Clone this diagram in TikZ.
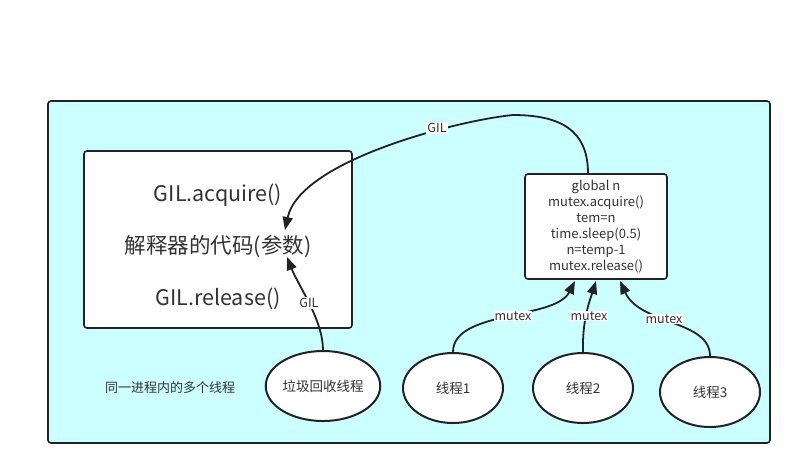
\documentclass[tikz,border=0pt]{standalone}
\usepackage{fontspec}
\setmainfont{Noto Sans CJK SC}
\usetikzlibrary{arrows.meta,shapes.geometric}
\definecolor{bgcyan}{HTML}{CCFFFF}
\definecolor{linec}{HTML}{222222}
\definecolor{txtc}{HTML}{333333}
\tikzset{
  box/.style={draw=linec,line width=1.6pt,rounded corners=3pt,inner sep=0pt},
  oval/.style={ellipse,draw=linec,line width=2pt,fill=white,minimum width=100pt,minimum height=70pt,inner sep=0pt,text=txtc,font=\fontsize{13.5}{15}\selectfont},
  conn/.style={draw=linec,line width=1.8pt,-{Triangle[length=13pt,width=10pt]}},
  lbl/.style={fill=white,inner sep=1pt,text=txtc,font=\fontsize{12.5}{14}\selectfont},
  bigtxt/.style={text=txtc,font=\fontsize{21.5}{24}\selectfont}
}
\begin{document}
\begin{tikzpicture}[x=1pt,y=-1pt]
\useasboundingbox (0,0) rectangle (802,475);
\fill[white] (0,0) rectangle (802,475);
% outer container
\node[box,fill=bgcyan,minimum width=722pt,minimum height=342pt] (outer) at (409,272) {};
% interpreter box
\node[box,fill=white,minimum width=268pt,minimum height=177pt] (interp) at (218,239.5) {};
\node[bigtxt] (acq) at (218,195) {GIL.acquire()};
\node[bigtxt] (code) at (218,247) {解释器的代码(参数)};
\node[bigtxt] (rel) at (218,299) {GIL.release()};
% thread code box
\node[box,fill=white,minimum width=142pt,minimum height=105pt,align=center,text=txtc,font=\fontsize{13}{16}\selectfont] (tcode) at (596,226.5)
  {global n\\mutex.acquire()\\tem=n\\time.sleep(0.5)\\n=temp-1\\mutex.release()};
% label
\node[text=txtc,font=\fontsize{13}{15}\selectfont] (desc) at (170,388) {同一进程内的多个线程};
% ellipses
\node[oval] (gc) at (323,386) {垃圾回收线程};
\node[oval] (t1) at (453,388) {线程1};
\node[oval] (t2) at (583,388) {线程2};
\node[oval] (t3) at (710,392) {线程3};
% connector end points
\coordinate (gs) at ([xshift=-8pt]tcode.north);
\coordinate (ge) at (285,230);
\coordinate (gce) at (287,257);
\coordinate (m1e) at (575,281);
\coordinate (m2e) at (596,281);
\coordinate (m3e) at (620,281);
% GIL from thread code back to interpreter
\draw[conn] (gs) .. controls (588,130) and (560,115) .. (513,115)
  .. controls (460,120) and (300,160) .. (ge);
\node[lbl] (gil1) at (437,128) {GIL};
% GC thread
\draw[conn] (gc.north) .. controls (323,320) and (298,285) .. (gce);
\node[lbl] (gil2) at (309,303) {GIL};
% mutex arrows
\draw[conn] (t1.north) .. controls (453,310) and (555,320) .. (m1e);
\node[lbl] (mx1) at (513,316) {mutex};
\draw[conn] (t2.north) .. controls (582,320) and (590,300) .. (m2e);
\node[lbl] (mx2) at (589,316) {mutex};
\draw[conn] (t3.north) .. controls (710,320) and (640,325) .. (m3e);
\node[lbl] (mx3) at (664,319) {mutex};
\end{tikzpicture}
\end{document}
